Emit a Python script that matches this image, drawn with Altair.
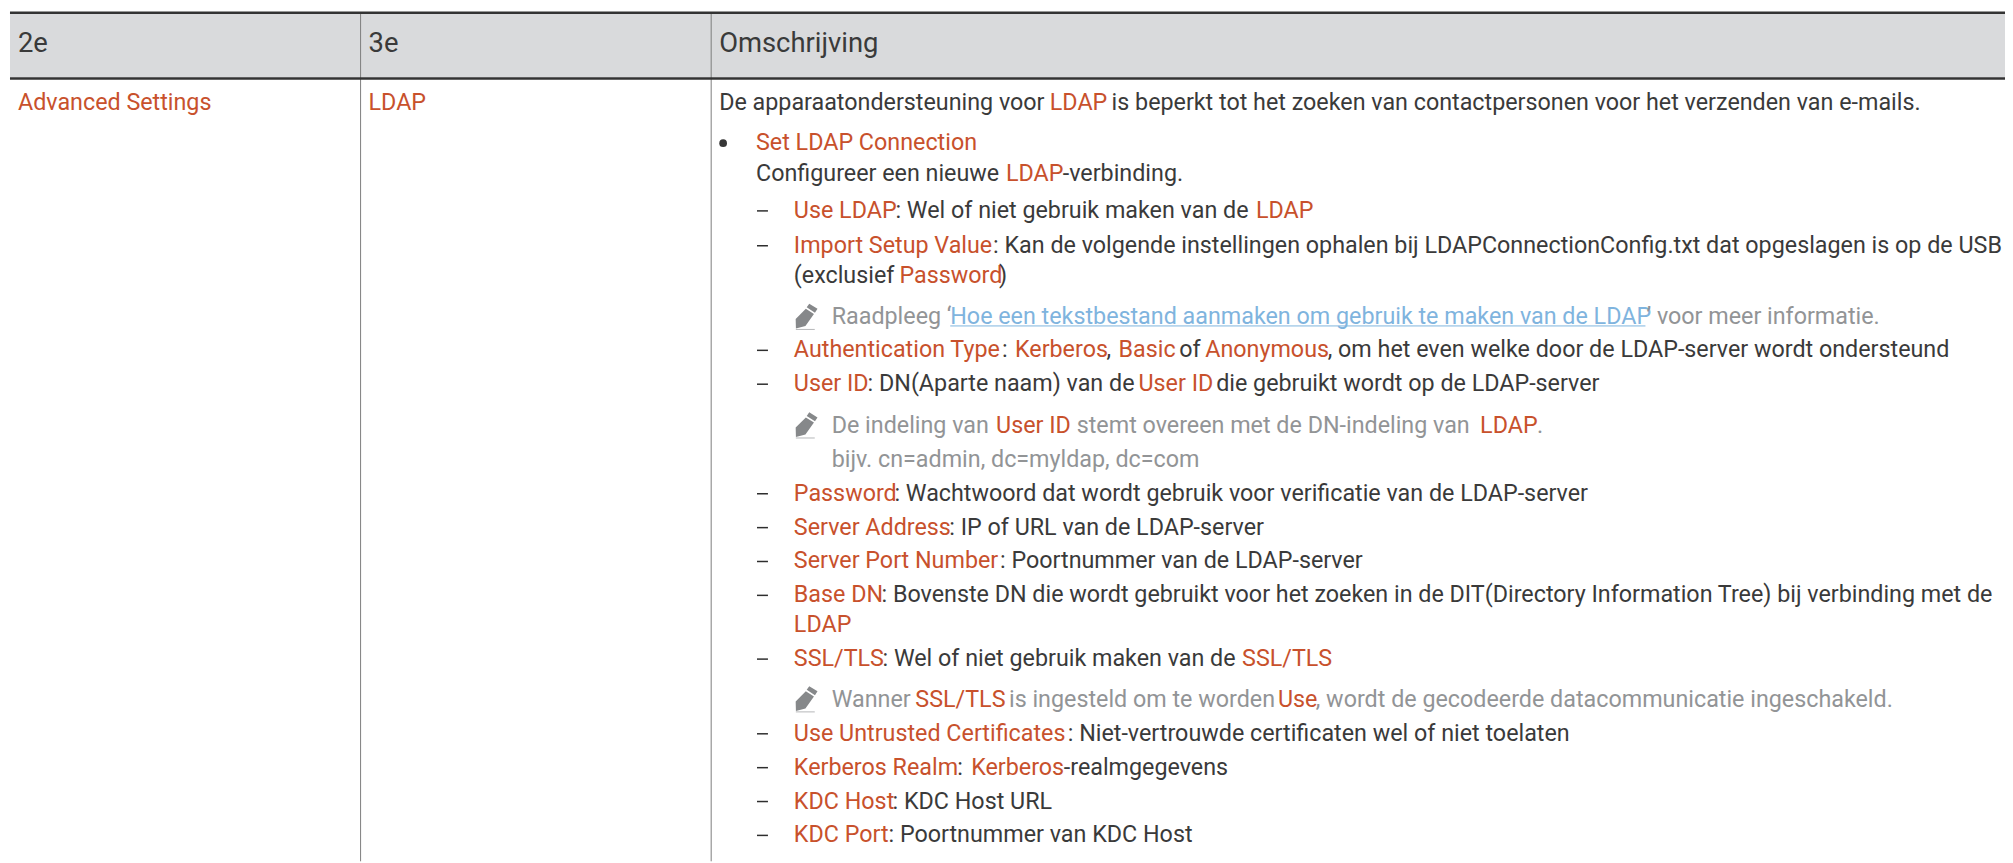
import altair as alt
import pandas as pd

BODY, ACC, NOTE, LINK = "body", "accent", "note", "link"

headers = [(18, "2e"), (370, "3e"), (722, "Omschrijving")]
header_row = 50

rows = [
    (109, [(18, "Advanced Settings", ACC), (370, "LDAP", ACC),
           (722, "De apparaatondersteuning voor", BODY), (1054, "LDAP", ACC),
           (1116, "is beperkt tot het zoeken van contactpersonen voor het verzenden van e-mails.", BODY)]),
    (149, [(759, "Set LDAP Connection", ACC)]),
    (180, [(759, "Configureer een nieuwe", BODY), (1010, "LDAP", ACC), (1067, "-verbinding.", BODY)]),
    (217, [(797, "Use LDAP", ACC), (899, ": Wel of niet gebruik maken van de", BODY), (1261, "LDAP", ACC)]),
    (252, [(797, "Import Setup Value", ACC),
           (997, ": Kan de volgende instellingen ophalen bij LDAPConnectionConfig.txt dat opgeslagen is op de USB", BODY)]),
    (282, [(797, "(exclusief", BODY), (903, "Password", ACC), (1003, ")", BODY)]),
    (324, [(835, "Raadpleeg ‘", NOTE), (954, "Hoe een tekstbestand aanmaken om gebruik te maken van de LDAP", LINK),
           (1653, "’ voor meer informatie.", NOTE)]),
    (357, [(797, "Authentication Type", ACC), (1006, ":", BODY), (1019, "Kerberos", ACC), (1111, ",", BODY),
           (1123, "Basic", ACC), (1184, "of", BODY), (1210, "Anonymous", ACC),
           (1333, ", om het even welke door de LDAP-server wordt ondersteund", BODY)]),
    (391, [(797, "User ID", ACC), (871, ": DN(Aparte naam) van de", BODY), (1143, "User ID", ACC),
           (1221, "die gebruikt wordt op de LDAP-server", BODY)]),
    (433, [(835, "De indeling van", NOTE), (1000, "User ID", ACC), (1081, "stemt overeen met de DN-indeling van", NOTE),
           (1486, "LDAP", ACC), (1543, ".", NOTE)]),
    (467, [(835, "bijv. cn=admin, dc=myldap, dc=com", NOTE)]),
    (501, [(797, "Password", ACC), (898, ": Wachtwoord dat wordt gebruik voor verificatie van de LDAP-server", BODY)]),
    (535, [(797, "Server Address", ACC), (953, ": IP of URL van de LDAP-server", BODY)]),
    (569, [(797, "Server Port Number", ACC), (1004, ": Poortnummer van de LDAP-server", BODY)]),
    (603, [(797, "Base DN", ACC),
           (885, ": Bovenste DN die wordt gebruikt voor het zoeken in de DIT(Directory Information Tree) bij verbinding met de", BODY)]),
    (633, [(797, "LDAP", ACC)]),
    (667, [(797, "SSL/TLS", ACC), (886, ": Wel of niet gebruik maken van de", BODY), (1247, "SSL/TLS", ACC)]),
    (708, [(835, "Wanner", NOTE), (919, "SSL/TLS", ACC), (1013, "is ingesteld om te worden", NOTE), (1283, "Use", ACC),
           (1321, ", wordt de gecodeerde datacommunicatie ingeschakeld.", NOTE)]),
    (742, [(797, "Use Untrusted Certificates", ACC), (1072, ": Niet-vertrouwde certificaten wel of niet toelaten", BODY)]),
    (776, [(797, "Kerberos Realm", ACC), (961, ":", BODY), (975, "Kerberos", ACC), (1068, "-realmgegevens", BODY)]),
    (810, [(797, "KDC Host", ACC), (896, ": KDC Host URL", BODY)]),
    (844, [(797, "KDC Port", ACC), (892, ": Poortnummer van KDC Host", BODY)]),
]

dash_rows = [217, 252, 357, 391, 501, 535, 569, 603, 667, 742, 776, 810, 844]
note_rows = [324, 433, 708]
bullet_rows = [149]

column_rules = [362, 714]
header_band = (12, 76)
heavy_rules = [11, 77]

W, H = 2005, 855
xs = alt.Scale(domain=[8, 8 + W], range=[0, W])
ys = alt.Scale(domain=[8, 8 + H], range=[0, H])
X = alt.X("x:Q", scale=xs, axis=None)
Y = alt.Y("y:Q", scale=ys, axis=None)

colors = alt.Scale(domain=[BODY, ACC, NOTE, LINK],
                   range=["#3a3a3a", "#c8512c", "#929496", "#7fb4de"])

FONT = "Roboto"
SIZE = 23.4

seg = pd.DataFrame([dict(x=x, y=r, t=t, k=k) for r, segs in rows for x, t, k in segs])
head = pd.DataFrame([dict(x=x, y=header_row, t=t) for x, t in headers])

band = alt.Chart(pd.DataFrame([dict(x=10, x2=2013, y=header_band[0], y2=header_band[1])])).mark_rect(
    color="#d9dadc").encode(x=X, x2="x2:Q", y=Y, y2="y2:Q")

vr = alt.Chart(pd.DataFrame([dict(x=c, y=header_band[0], y2=863) for c in column_rules])).mark_rule(
    color="#7d7d7d", strokeWidth=1).encode(x=X, y=Y, y2="y2:Q")

hr = alt.Chart(pd.DataFrame([dict(x=10, x2=2013, y=y) for y in heavy_rules])).mark_rule(
    color="#333333", strokeWidth=2.5).encode(x=X, x2="x2:Q", y=Y)

link_line = alt.Chart(pd.DataFrame([dict(x=954, x2=1652, y=325.5)])).mark_rule(
    color="#7fb4de", strokeWidth=1).encode(x=X, x2="x2:Q", y=Y)

head_text = alt.Chart(head).mark_text(font=FONT, fontSize=27.5, align="left", baseline="alphabetic",
                                      color="#3a3a3a").encode(x=X, y=Y, text="t:N")

body_text = alt.Chart(seg).mark_text(font=FONT, fontSize=SIZE, align="left", baseline="alphabetic").encode(
    x=X, y=Y, text="t:N", color=alt.Color("k:N", scale=colors, legend=None))

dashes = alt.Chart(pd.DataFrame([dict(x=760, x2=771, y=r - 7) for r in dash_rows])).mark_rule(
    color="#2e2e2e", strokeWidth=1.5).encode(x=X, x2="x2:Q", y=Y)

bullets = alt.Chart(pd.DataFrame([dict(x=726, y=r - 7) for r in bullet_rows])).mark_point(
    shape="circle", filled=True, color="#363636", size=60, opacity=1).encode(x=X, y=Y)

pencil_path = ("M 0.35 -1 L 1 -0.6 L 0.8 -0.3 L 0.15 -0.72 Z "
               "M 0.08 -0.6 L 0.72 -0.2 L 0.05 0.75 L -0.7 0.95 L -0.72 0.2 Z")
pencils = alt.Chart(pd.DataFrame([dict(x=808, y=r - 8) for r in note_rows])).mark_point(
    shape=pencil_path, filled=True, color="#86888a", size=650, opacity=1, strokeWidth=0).encode(x=X, y=Y)
pencil_base = alt.Chart(pd.DataFrame([dict(x=799, x2=818, y=r + 5) for r in note_rows])).mark_rule(
    color="#b5b6b8", strokeWidth=1).encode(x=X, x2="x2:Q", y=Y)

chart = alt.layer(band, vr, hr, link_line, pencil_base, pencils, dashes, bullets, head_text, body_text).properties(
    width=W, height=H, padding=0, background="white",
    autosize=alt.AutoSizeParams(type="none"),
).configure_view(stroke=None)

chart.save("out.html", embed_options={"renderer": "svg", "actions": False})
